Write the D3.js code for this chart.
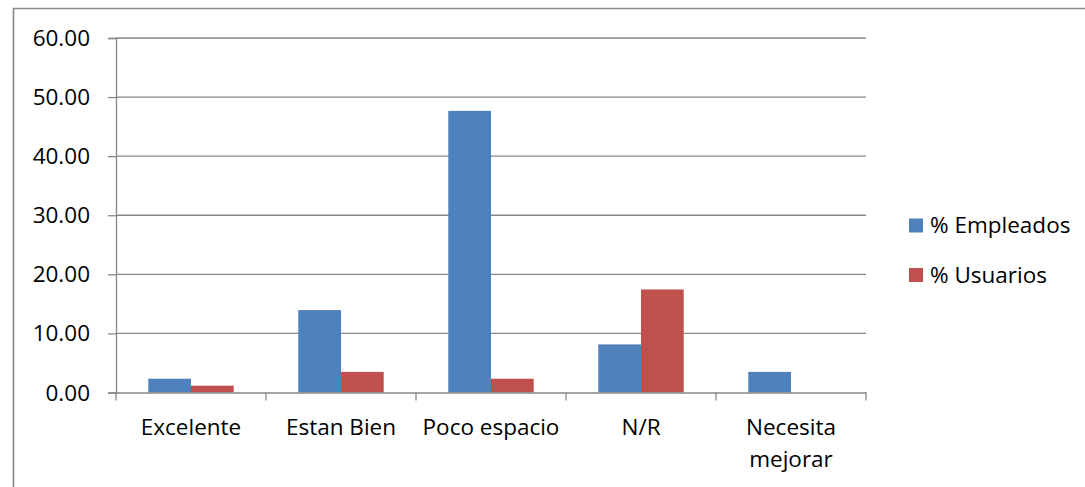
<!DOCTYPE html>
<html>
<head>
<meta charset="utf-8">
<script src="https://cdn.jsdelivr.net/npm/d3@7"></script>
<style>
  html, body { margin: 0; padding: 0; background: #fff; }
  svg { display: block; }
  text { font-family: "Open Sans", "DejaVu Sans", sans-serif; fill: #000; }
</style>
</head>
<body>
<svg id="chart" width="1085" height="487"></svg>
<script>
const categories = ["Excelente", "Estan Bien", "Poco espacio", "N/R", "Necesita mejorar"];
const seriesNames = ["% Empleados", "% Usuarios"];
const empleados = [2.33, 13.95, 47.67, 8.14, 3.49];
const usuarios = [1.16, 3.49, 2.33, 17.44, 0];
const yTicks = [0, 10, 20, 30, 40, 50, 60];
const colors = ["#4F81BD", "#C0504D"];

const svg = d3.select("#chart");
const plot = { left: 116, right: 866, top: 38, bottom: 392.5 };
const fontSize = 22.5;

// outer chart border (left and top visible)
svg.append("path")
  .attr("d", `M13.5,487 V8.5 H1085`)
  .attr("fill", "none")
  .attr("stroke", "#878787")
  .attr("stroke-width", 1.6);

const x = d3.scaleBand().domain(categories).range([plot.left, plot.right]).paddingInner(0).paddingOuter(0);
const xs = d3.scaleBand().domain(seriesNames).range([32.3, x.bandwidth() - 32.3]).padding(0);
const y = d3.scaleLinear().domain([0, 60]).range([plot.bottom, plot.top]);

// gridlines
svg.append("g").selectAll("line").data(yTicks.filter(d => d > 0)).join("line")
  .attr("x1", plot.left).attr("x2", plot.right)
  .attr("y1", d => y(d)).attr("y2", d => y(d))
  .attr("stroke", "#878787").attr("stroke-width", 1.3);

// y axis
const yAxis = d3.axisLeft(y).tickValues(yTicks).tickSize(8).tickFormat(d3.format(".2f"));
const gy = svg.append("g").attr("transform", `translate(${plot.left},0)`).call(yAxis);
gy.select(".domain").attr("stroke", "#878787").attr("stroke-width", 1.3);
gy.selectAll(".tick line").attr("stroke", "#878787").attr("stroke-width", 1.3);
gy.selectAll(".tick text")
  .attr("x", -26).attr("dy", null).attr("y", 7.5)
  .style("font-size", fontSize + "px").attr("fill", "#000");

// bars
const data = [empleados, usuarios];
data.forEach((vals, si) => {
  svg.append("g").selectAll("rect").data(vals.map((v, i) => ({ c: categories[i], v }))).join("rect")
    .attr("x", d => x(d.c) + xs(seriesNames[si]))
    .attr("width", xs.bandwidth())
    .attr("y", d => y(d.v))
    .attr("height", d => y(0) - y(d.v))
    .attr("fill", colors[si]);
});

// x axis
const xAxis = d3.axisBottom(x).tickSize(0).tickFormat("");
const gx = svg.append("g").attr("transform", `translate(0,${plot.bottom})`).call(xAxis);
gx.select(".domain").attr("stroke", "#878787").attr("stroke-width", 1.3);
const edges = categories.map(c => x(c)).concat([plot.right]);
svg.append("g").selectAll("line").data(edges).join("line")
  .attr("x1", d => d).attr("x2", d => d)
  .attr("y1", plot.bottom).attr("y2", plot.bottom + 8)
  .attr("stroke", "#878787").attr("stroke-width", 1.3);

// category labels
const labelLines = { "Necesita mejorar": ["Necesita", "mejorar"] };
const lab = svg.append("g").selectAll("text").data(categories).join("text")
  .attr("text-anchor", "middle")
  .style("font-size", fontSize + "px");
lab.each(function(c) {
  const lines = labelLines[c] || [c];
  d3.select(this).selectAll("tspan").data(lines).join("tspan")
    .attr("x", x(c) + x.bandwidth() / 2)
    .attr("y", (d, i) => 435 + i * 31.5)
    .text(d => d);
});

// legend
const leg = svg.append("g").selectAll("g").data(seriesNames).join("g")
  .attr("transform", (d, i) => `translate(909,${218.5 + i * 49.5})`);
leg.append("rect").attr("width", 14).attr("height", 14).attr("fill", (d, i) => colors[i]);
leg.append("text").attr("x", 21).attr("y", 14.5).style("font-size", fontSize + "px").text(d => d);
</script>
</body>
</html>
